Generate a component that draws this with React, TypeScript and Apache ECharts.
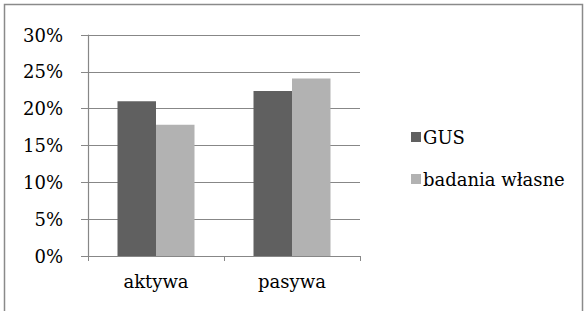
import React, { useEffect, useRef } from "react";
import * as echarts from "echarts";

const categories = ["aktywa", "pasywa"];
const seriesNames = ["GUS", "badania własne"];
const gusValues = [21.0, 22.4];
const badaniaValues = [17.8, 24.1];
const yTicks = [0, 5, 10, 15, 20, 25, 30];

export default function App() {
  const ref = useRef<HTMLDivElement>(null);
  useEffect(() => {
    if (!ref.current) return;
    const chart = echarts.init(ref.current, undefined, { renderer: "svg" });
    const font = "DejaVu Serif";
    const axisColor = "#878787";
    chart.setOption({
      animation: false,
      backgroundColor: "#ffffff",
      textStyle: { fontFamily: font },
      graphic: [
        {
          type: "rect",
          shape: { x: 4.5, y: 4.5, width: 578, height: 330 },
          style: { fill: "none", stroke: "#8a8a8a", lineWidth: 1.5 },
          silent: true,
        },
      ],
      grid: { left: 88, right: 224, top: 35, bottom: 55, containLabel: false },
      legend: {
        orient: "vertical",
        left: 406,
        top: 123,
        itemWidth: 10,
        itemHeight: 10,
        itemGap: 24,
        icon: "rect",
        data: seriesNames,
        textStyle: { fontFamily: font, fontSize: 18, color: "#000", padding: [0, 0, 0, -3] },
      },
      xAxis: {
        type: "category",
        data: categories,
        axisLine: { lineStyle: { color: axisColor, width: 1.2 } },
        axisTick: { show: true, length: 5, lineStyle: { color: axisColor } },
        axisLabel: { fontFamily: font, fontSize: 18, color: "#000", margin: 16 },
      },
      yAxis: {
        type: "value",
        min: 0,
        max: 30,
        interval: 5,
        axisLine: { show: true, lineStyle: { color: axisColor, width: 1.2 } },
        axisTick: { show: true, length: 7, lineStyle: { color: axisColor } },
        splitLine: { show: true, lineStyle: { color: axisColor, width: 1.2 } },
        axisLabel: {
          fontFamily: font,
          fontSize: 18,
          color: "#000",
          margin: 25,
          formatter: (v: number) => (yTicks.includes(v) ? `${v}%` : ""),
        },
      },
      series: [
        {
          name: seriesNames[0],
          type: "bar",
          data: gusValues,
          barWidth: 38.5,
          barGap: "0%",
          itemStyle: { color: "#606060" },
        },
        {
          name: seriesNames[1],
          type: "bar",
          data: badaniaValues,
          barWidth: 38.5,
          barGap: "0%",
          itemStyle: { color: "#b2b2b2" },
        },
      ],
    });
    return () => chart.dispose();
  }, []);
  return (
    <div
      ref={ref}
      style={{ position: "absolute", left: 0, top: 0, width: 584, height: 311, background: "#fff" }}
    />
  );
}
